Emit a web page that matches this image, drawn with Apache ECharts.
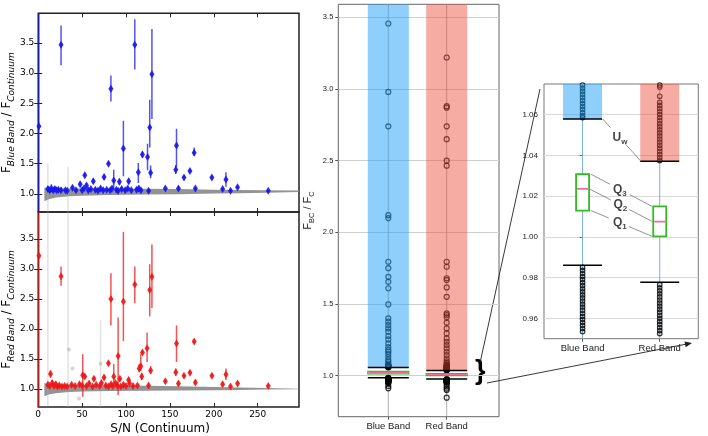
<!DOCTYPE html>
<html>
<head>
<meta charset="utf-8">
<script src="https://cdn.jsdelivr.net/npm/echarts@6/dist/echarts.min.js"></script>
<style>
html,body{margin:0;padding:0;background:#fff;}
#main{width:708px;height:436px;}
</style>
</head>
<body>
<div id="main"></div>
<script>
// 刻度
var snTicks = [0, 50, 100, 150, 200, 250];
var ratioTicks = [1.0, 1.5, 2.0, 2.5, 3.0, 3.5];
var zoomTicks = [0.96, 0.98, 1.00, 1.02, 1.04, 1.06];
var categories = ['Blue Band', 'Red Band'];

// 左图 蓝带点 [S/N, 比值, 误差下, 误差上]
var bluePoints = [
	[0.8, 2.12, 0.7, 4.0], [26, 3.47, 3.13, 3.79], [82.8, 2.74, 2.53, 2.96], [97, 1.75, 1.29, 2.21],
	[110, 3.47, 3.06, 3.89], [129.5, 2.98, 2.24, 3.73], [127, 2.10, 1.77, 2.56], [124.5, 1.61, 1.39, 1.83],
	[118.7, 1.65, 1.60, 1.70], [128, 1.35, 1.26, 1.47], [114, 1.36, 1.18, 1.51], [157.5, 1.80, 1.45, 2.08],
	[156.7, 1.40, 1.33, 1.48], [177.6, 1.68, 1.63, 1.77], [166, 1.27, 1.24, 1.30], [172.8, 1.38, 1.35, 1.41],
	[197.8, 1.27, 1.24, 1.30], [213.8, 1.24, 1.12, 1.36], [80, 1.50, 1.47, 1.53], [75, 1.28, 1.23, 1.32],
	[53, 1.31, 1.27, 1.35], [47.8, 1.16, 1.12, 1.20], [55, 1.14, 1.10, 1.18], [62.7, 1.21, 1.17, 1.25],
	[86, 1.22, 1.10, 1.40], [92.5, 1.20, 1.15, 1.25], [103, 1.21, 1.16, 1.26], [144.8, 1.09, 1.07, 1.11],
	[159.7, 1.09, 1.05, 1.12], [179, 1.09, 1.06, 1.12], [210, 1.08, 1.05, 1.11], [219, 1.05, 1.03, 1.07],
	[227, 1.11, 1.08, 1.13], [262, 1.05, 1.03, 1.07], [125.7, 1.05, 1.03, 1.07], [114.5, 1.09, 1.03, 1.14],
	[11, 1.08, 1.03, 1.13], [13, 1.06, 1.02, 1.10], [15, 1.09, 1.03, 1.16], [17, 1.06, 1.03, 1.09],
	[19, 1.08, 1.04, 1.12], [21, 1.06, 1.03, 1.09], [23, 1.07, 1.04, 1.10], [26, 1.06, 1.03, 1.09],
	[31, 1.06, 1.04, 1.08], [33, 1.05, 1.03, 1.07], [39, 1.10, 1.07, 1.13], [43, 1.06, 1.04, 1.08],
	[50, 1.06, 1.04, 1.08], [52, 1.09, 1.06, 1.12], [57, 1.06, 1.04, 1.08], [60, 1.08, 1.05, 1.11],
	[65, 1.07, 1.05, 1.09], [68, 1.05, 1.03, 1.07], [71, 1.09, 1.06, 1.12], [74, 1.06, 1.04, 1.08],
	[78, 1.07, 1.05, 1.09], [82, 1.06, 1.04, 1.08], [84, 1.09, 1.06, 1.12], [89, 1.07, 1.05, 1.09],
	[91, 1.05, 1.03, 1.07], [95, 1.08, 1.05, 1.11], [99, 1.06, 1.04, 1.08], [102, 1.09, 1.06, 1.12],
	[106, 1.06, 1.04, 1.08], [112, 1.07, 1.05, 1.09], [117, 1.06, 1.04, 1.08]
];

// 左图 红带点
var redPoints = [
	[0.8, 3.22, 0.7, 3.95], [26, 2.88, 2.72, 3.04], [82.8, 2.50, 2.06, 2.93], [97, 2.46, 1.80, 3.62],
	[110, 2.74, 2.43, 3.04], [127, 2.65, 2.21, 3.08], [129.5, 2.87, 2.35, 3.41], [91, 1.55, 0.90, 2.19],
	[124, 1.68, 1.45, 1.94], [118.7, 1.61, 1.57, 1.65], [116.8, 1.38, 1.30, 1.58], [115, 1.34, 1.28, 1.42],
	[128, 1.31, 1.25, 1.38], [117.9, 1.21, 1.15, 1.27], [157.5, 1.76, 1.45, 2.06], [156.7, 1.28, 1.22, 1.34],
	[177.6, 1.79, 1.76, 1.82], [166, 1.22, 1.19, 1.25], [172.8, 1.27, 1.24, 1.30], [197.8, 1.22, 1.19, 1.25],
	[213.8, 1.24, 1.15, 1.34], [144.8, 1.13, 1.10, 1.16], [159.7, 1.09, 1.05, 1.13], [179, 1.11, 1.07, 1.15],
	[210, 1.08, 1.04, 1.12], [219, 1.04, 1.02, 1.06], [227, 1.09, 1.06, 1.12], [262, 1.05, 1.03, 1.07],
	[125.7, 1.06, 1.04, 1.08], [80, 1.43, 1.40, 1.46], [14, 1.25, 1.19, 1.31], [50.7, 1.23, 0.87, 1.58],
	[53, 1.21, 1.17, 1.25], [63.4, 1.17, 1.13, 1.21], [75, 1.19, 1.15, 1.23], [86, 1.21, 1.10, 1.42],
	[93, 1.17, 1.13, 1.21], [103, 1.15, 1.10, 1.20],
	[11, 1.07, 1.03, 1.12], [13, 1.05, 1.02, 1.09], [16, 1.10, 1.05, 1.15], [18, 1.05, 1.02, 1.08],
	[20, 1.08, 1.04, 1.12], [22, 1.04, 1.02, 1.07], [24, 1.06, 1.03, 1.09], [27, 1.04, 1.02, 1.06],
	[30, 1.05, 1.03, 1.07], [33, 1.04, 1.02, 1.06], [38, 1.07, 1.04, 1.10], [42, 1.05, 1.03, 1.07],
	[47, 1.08, 1.05, 1.11], [50, 1.06, 1.04, 1.08], [55, 1.05, 1.03, 1.07], [58, 1.09, 1.06, 1.12],
	[62, 1.04, 1.02, 1.06], [66, 1.07, 1.05, 1.09], [70, 1.05, 1.03, 1.07], [72, 1.10, 1.07, 1.13],
	[77, 1.06, 1.04, 1.08], [80, 1.04, 1.02, 1.06], [83, 1.08, 1.05, 1.11], [85, 1.05, 1.03, 1.07],
	[88, 1.10, 1.07, 1.13], [90, 1.06, 1.04, 1.08], [94, 1.04, 1.02, 1.06], [97, 1.07, 1.05, 1.09],
	[100, 1.05, 1.03, 1.07], [104, 1.09, 1.06, 1.12], [108, 1.05, 1.03, 1.07], [113, 1.06, 1.04, 1.08]
];

// 灰色背景点带 (下沿/上沿)
var bandX = [7, 12, 20, 35, 50, 80, 120, 160, 200, 230, 260, 297];
var blueBandLow = [0.88, 0.91, 0.94, 0.96, 0.97, 0.98, 0.99, 0.995, 1.005, 1.01, 1.02, 1.03];
var blueBandHigh = [1.10, 1.10, 1.095, 1.09, 1.09, 1.09, 1.085, 1.08, 1.07, 1.065, 1.06, 1.055];
var redBandLow = [0.88, 0.91, 0.93, 0.95, 0.96, 0.965, 0.97, 0.975, 0.98, 0.985, 0.99, 0.995];
var redBandHigh = [1.10, 1.08, 1.07, 1.065, 1.065, 1.06, 1.055, 1.045, 1.035, 1.025, 1.015, 1.005];

// 灰色误差棒 [S/N, 下, 上]
var grayBarsTop = [[11, 0.7, 1.5], [34, 0.7, 1.45]];
var grayBarsBottom = [[11, 0.7, 3.95], [34, 0.7, 3.95], [71, 0.7, 2.15]];
var grayPointsBottom = [[35, 1.66], [71, 1.42], [39, 1.34], [46.6, 0.84]];

// 箱线图
var upperWhisker = [1.0578, 1.0371];
var q3 = [1.0307, 1.0149];
var median = [1.0235, 1.0075];
var q1 = [1.0129, 1.0002];
var lowerWhisker = [0.986, 0.9777];

var blueOutliers = [3.457, 2.98, 2.74, 2.12, 2.10, 1.795, 1.75, 1.69, 1.655, 1.61, 1.497, 1.40, 1.377,
	1.353, 1.33, 1.307, 1.277, 1.253, 1.225, 1.20, 1.18, 1.167, 1.151, 1.13, 1.11, 1.098, 1.085,
	1.0745, 1.073, 1.0715, 1.07, 1.0685, 1.067, 1.0655, 1.064, 1.0625, 1.061, 1.0595, 1.0585,
	0.985, 0.9835, 0.982, 0.9805, 0.979, 0.9775, 0.976, 0.9745, 0.973, 0.9715, 0.97, 0.9685, 0.967,
	0.9655, 0.964, 0.9625, 0.961, 0.9595, 0.958, 0.9565, 0.955, 0.9535, 0.947, 0.928, 0.912];
var redOutliers = [3.22, 2.88, 2.87, 2.74, 2.65, 2.50, 2.465, 1.795, 1.76, 1.68, 1.667, 1.616, 1.55,
	1.435, 1.423, 1.407, 1.37, 1.33, 1.295, 1.26, 1.237, 1.214, 1.19, 1.167, 1.144, 1.12, 1.10, 1.09,
	1.08, 1.0745, 1.0735, 1.069, 1.066, 1.0645, 1.063, 1.0615, 1.06, 1.0585, 1.057, 1.0555, 1.054,
	1.0525, 1.051, 1.0495, 1.048, 1.0465, 1.045, 1.0435, 1.042, 1.0405, 1.039, 1.0375,
	0.9765, 0.975, 0.9735, 0.972, 0.9705, 0.969, 0.9675, 0.966, 0.9645, 0.963, 0.9615, 0.96, 0.9585,
	0.957, 0.9555, 0.954, 0.9525, 0.94, 0.925, 0.91, 0.90, 0.847];

var FONT_L = 'DejaVu Sans';
var FONT_R = 'Liberation Sans';

var boxData = categories.map(function (c, i) {
	return [i, lowerWhisker[i], q1[i], median[i], q3[i], upperWhisker[i]];
});
var outlierData = blueOutliers.map(function (v) { return [0, v]; })
	.concat(redOutliers.map(function (v) { return [1, v]; }));

//左图坐标轴
function leftX(grid, pos, showLabel) {
	return {
		type: 'value', gridIndex: grid, position: pos, min: 0, max: 297,
		name: showLabel ? 'S/N (Continuum)' : '',
		nameLocation: 'middle', nameGap: 16,
		nameTextStyle: {fontFamily: FONT_L, fontSize: 12, color: '#000', padding: [0, 17, 0, 0]},
		axisLine: {show: false},
		splitLine: {show: false},
		axisTick: {show: true, inside: true, length: 4, customValues: snTicks, lineStyle: {color: '#222'}},
		axisLabel: {show: showLabel, customValues: snTicks, margin: 3, fontFamily: FONT_L, fontSize: 9, color: '#000'}
	};
}
function leftY(grid, pos, max, name) {
	return {
		type: 'value', gridIndex: grid, position: pos, min: 0.7, max: max,
		name: name || '', nameLocation: 'middle', nameGap: 15,
		nameTextStyle: {
			fontFamily: FONT_L, color: '#000',
			rich: {
				m: {fontFamily: FONT_L, fontSize: 12, lineHeight: 18, color: '#000'},
				s: {fontFamily: FONT_L, fontSize: 9, fontStyle: 'italic', lineHeight: 10, verticalAlign: 'bottom', color: '#000'}
			}
		},
		axisLine: {show: false},
		splitLine: {show: false},
		axisTick: {show: true, inside: true, length: 4, customValues: ratioTicks, lineStyle: {color: '#222'}},
		axisLabel: {
			show: pos === 'left', customValues: ratioTicks, margin: 4, fontFamily: FONT_L, fontSize: 9, color: '#000',
			formatter: function (v) { return v.toFixed(1); }
		}
	};
}

//误差棒
function errRender(color, width) {
	return function (params, api) {
		var x = api.value(0);
		var p1 = api.coord([x, api.value(2)]);
		var p2 = api.coord([x, api.value(3)]);
		return {
			type: 'line',
			shape: {x1: p1[0], y1: p1[1], x2: p2[0], y2: p2[1]},
			style: {stroke: color, lineWidth: width}
		};
	};
}

//灰色点带
function bandRender(low, high) {
	return function (params, api) {
		if (params.dataIndex !== 0) {
			return null;
		}
		var pts = [];
		for (var i = 0; i < bandX.length; i++) {
			pts.push(api.coord([bandX[i], high[i]]));
		}
		for (var j = bandX.length - 1; j >= 0; j--) {
			pts.push(api.coord([bandX[j], low[j]]));
		}
		return {type: 'polygon', shape: {points: pts}, style: {fill: 'rgba(128,128,128,0.85)'}};
	};
}

function leftSeries(xi, yi, points, low, high, grayBars, color, errColor) {
	var s = [];
	s.push({
		type: 'custom', xAxisIndex: xi, yAxisIndex: yi, clip: true, z: 1, silent: true,
		renderItem: bandRender(low, high),
		encode: {x: 0, y: 1},
		data: bandX.map(function (x, i) { return [x, low[i], high[i]]; })
	});
	s.push({
		type: 'custom', xAxisIndex: xi, yAxisIndex: yi, clip: true, z: 1,
		renderItem: function (params, api) {
			var a = api.coord([api.value(0), api.value(1)]);
			var b = api.coord([api.value(0), api.value(2)]);
			return {type: 'line', shape: {x1: a[0], y1: a[1], x2: b[0], y2: b[1]},
				style: {stroke: 'rgba(170,170,170,0.35)', lineWidth: 1.5}};
		},
		encode: {x: 0, y: 1},
		data: grayBars
	});
	s.push({
		type: 'custom', xAxisIndex: xi, yAxisIndex: yi, clip: true, z: 3,
		renderItem: errRender(errColor, 1.5),
		encode: {x: 0, y: 1},
		data: points
	});
	s.push({
		type: 'scatter', xAxisIndex: xi, yAxisIndex: yi, symbol: 'diamond', symbolSize: [5, 8],
		itemStyle: {color: color, opacity: 0.9}, z: 4, data: points.map(function (p) { return [p[0], p[1]]; })
	});
	return s;
}

//箱线
function lineRender(color, width) {
	return function (params, api) {
		var cs = params.coordSys;
		var cx = api.coord([api.value(0), api.value(3)])[0];
		return {type: 'line', shape: {x1: cx, y1: cs.y, x2: cx, y2: cs.y + cs.height},
			style: {stroke: color, lineWidth: width}};
	};
}
var barColors = ['rgba(30,160,250,0.5)', 'rgba(235,70,50,0.45)'];
function boxRender(barW, boxW, lw) {
	return function (params, api) {
		var cs = params.coordSys;
		var i = api.value(0);
		var cx = api.coord([i, api.value(3)])[0];
		var yL = api.coord([i, api.value(1)])[1];
		var yQ1 = api.coord([i, api.value(2)])[1];
		var yM = api.coord([i, api.value(3)])[1];
		var yQ3 = api.coord([i, api.value(4)])[1];
		var yU = api.coord([i, api.value(5)])[1];
		return {
			type: 'group',
			children: [
				{type: 'rect', shape: {x: cx - barW / 2, y: cs.y, width: barW, height: yU - cs.y},
					style: {fill: barColors[i]}},
				{type: 'line', shape: {x1: cx - barW / 2, y1: yU, x2: cx + barW / 2, y2: yU},
					style: {stroke: '#000', lineWidth: 1.5}},
				{type: 'line', shape: {x1: cx - barW / 2, y1: yL, x2: cx + barW / 2, y2: yL},
					style: {stroke: '#000', lineWidth: 1.5}},
				{type: 'rect', shape: {x: cx - boxW / 2, y: yQ3, width: boxW, height: yQ1 - yQ3},
					style: {fill: '#fff', stroke: '#33bb22', lineWidth: lw}},
				{type: 'line', shape: {x1: cx - boxW / 2 + 1, y1: yM, x2: cx + boxW / 2 - 1, y2: yM},
					style: {stroke: '#f06aa6', lineWidth: lw}}
			]
		};
	};
}

function catAxis(grid) {
	return {
		type: 'category', gridIndex: grid, data: categories,
		axisLine: {show: false},
		axisTick: {show: true, alignWithLabel: true, length: 3, lineStyle: {color: '#555'}},
		axisLabel: {fontFamily: FONT_R, fontSize: 9.5, color: '#222', margin: 5},
		splitLine: {show: false}
	};
}

// 注释 (Uw, Q3, Q2, Q1)
var annoDefs = [
	{t: '{b|U}{s|w}', y0: upperWhisker[0], y1: upperWhisker[1], x0: 0.262, x1: 0.756, a: 0.2, b: 0.6, m: 0.45},
	{t: '{b|Q}{s|3}', y0: q3[0], y1: q3[1], x0: 0.11, x1: 0.903, a: 0.31, b: 0.63, m: 0.47},
	{t: '{b|Q}{s|2}', y0: median[0], y1: median[1], x0: 0.09, x1: 0.905, a: 0.34, b: 0.63, m: 0.49},
	{t: '{b|Q}{s|1}', y0: q1[0], y1: q1[1], x0: 0.11, x1: 0.903, a: 0.29, b: 0.62, m: 0.47}
];
function lerp(d, f) { return [d.x0 + (d.x1 - d.x0) * f, d.y0 + (d.y1 - d.y0) * f]; }
var annoLines = [];
var annoLabels = [];
annoDefs.forEach(function (d) {
	annoLines.push({coords: [lerp(d, 0), lerp(d, d.a)]});
	annoLines.push({coords: [lerp(d, d.b), lerp(d, 1)]});
	annoLabels.push({value: lerp(d, d.m), label: {formatter: d.t}});
});

var option = {
	animation: false,
	backgroundColor: '#fff',
	grid: [
		{left: 33.3, top: 13.3, width: 265.7, height: 198.7, show: true, borderColor: '#222', borderWidth: 1.5},
		{left: 33.3, top: 212, width: 265.7, height: 198.7, show: true, borderColor: '#222', borderWidth: 1.5},
		{left: 338.3, top: 4.3, width: 160.7, height: 412.4, show: true, borderColor: '#666', borderWidth: 1},
		{left: 359.1, top: 4.3, width: 116.8, height: 412.4, show: false},
		{left: 544, top: 84, width: 154.3, height: 254.7, show: true, borderColor: '#777', borderWidth: 1}
	],
	xAxis: [
		leftX(0, 'bottom', false),
		leftX(0, 'top', false),
		leftX(1, 'bottom', true),
		leftX(1, 'top', false),
		{type: 'value', gridIndex: 2, show: false, min: 0, max: 1},
		catAxis(3),
		catAxis(4),
		{type: 'value', gridIndex: 4, show: false, min: -0.5, max: 1.5}
	],
	yAxis: [
		leftY(0, 'left', 3.99, '{m|F}{s|Blue Band}{m| / F}{s|Continuum}'),
		leftY(0, 'right', 3.99),
		leftY(1, 'left', 3.95, '{m|F}{s|Red Band}{m| / F}{s|Continuum}'),
		leftY(1, 'right', 3.95),
		{
			type: 'value', gridIndex: 2, min: 0.714, max: 3.591,
			name: '{m|F}{s|BC}{m| / F}{s|C}', nameLocation: 'middle', nameGap: 22,
			nameTextStyle: {
				rich: {
					m: {fontFamily: FONT_R, fontSize: 11, lineHeight: 16, color: '#222'},
					s: {fontFamily: FONT_R, fontSize: 7.5, lineHeight: 9, verticalAlign: 'bottom', color: '#222'}
				}
			},
			axisLine: {show: false},
			axisTick: {show: true, length: 3, customValues: ratioTicks, lineStyle: {color: '#555'}},
			splitLine: {show: true, lineStyle: {color: '#cfcfcf', width: 1}},
			axisLabel: {customValues: ratioTicks, margin: 5, fontFamily: FONT_R, fontSize: 7.5, color: '#222',
				formatter: function (v) { return v.toFixed(1); }}
		},
		{type: 'value', gridIndex: 3, show: false, min: 0.714, max: 3.591},
		{
			type: 'value', gridIndex: 4, min: 0.95, max: 1.075,
			axisLine: {show: false},
			axisTick: {show: true, length: 3, customValues: zoomTicks, lineStyle: {color: '#666'}},
			splitLine: {show: true, lineStyle: {color: '#d8d8d8', width: 1}},
			axisLabel: {customValues: zoomTicks, margin: 6, fontFamily: FONT_R, fontSize: 8, color: '#222',
				formatter: function (v) { return v.toFixed(2); }}
		}
	],
	series: [].concat(
		leftSeries(0, 0, bluePoints, blueBandLow, blueBandHigh, grayBarsTop, '#1515f0', 'rgba(25,25,235,0.75)'),
		leftSeries(2, 2, redPoints, redBandLow, redBandHigh, grayBarsBottom, '#f01515', 'rgba(240,25,25,0.75)'),
		[
			{
				type: 'scatter', xAxisIndex: 2, yAxisIndex: 2, symbolSize: 4, z: 2,
				itemStyle: {color: 'rgba(150,150,150,0.5)'}, data: grayPointsBottom
			},
			// 中图
			{type: 'custom', xAxisIndex: 5, yAxisIndex: 5, z: 2, renderItem: lineRender('#9a9a9a', 0.8), data: boxData},
			{
				type: 'scatter', xAxisIndex: 5, yAxisIndex: 5, symbol: 'circle', symbolSize: 5, z: 3,
				itemStyle: {color: 'rgba(0,0,0,0)', borderColor: '#000', borderWidth: 1.2}, data: outlierData
			},
			{type: 'custom', xAxisIndex: 5, yAxisIndex: 5, z: 4, clip: true, renderItem: boxRender(41, 41, 1.2), data: boxData},
			// 右图
			{type: 'custom', xAxisIndex: 6, yAxisIndex: 6, z: 2, renderItem: lineRender('#78b0dd', 1), data: boxData},
			{
				type: 'scatter', xAxisIndex: 6, yAxisIndex: 6, symbol: 'circle', symbolSize: 4.5, z: 3,
				itemStyle: {color: 'rgba(0,0,0,0)', borderColor: '#000', borderWidth: 1.2}, data: outlierData
			},
			{type: 'custom', xAxisIndex: 6, yAxisIndex: 6, z: 4, clip: true, renderItem: boxRender(39, 13, 1.8), data: boxData},
			{
				type: 'lines', coordinateSystem: 'cartesian2d', xAxisIndex: 7, yAxisIndex: 6, z: 5,
				lineStyle: {color: '#777', width: 0.8, opacity: 1}, data: annoLines
			},
			{
				type: 'scatter', xAxisIndex: 7, yAxisIndex: 6, symbolSize: 0, z: 6, silent: true,
				label: {
					show: true, position: 'inside',
					rich: {
						b: {fontFamily: FONT_R, fontSize: 12, fontWeight: 'bold', lineHeight: 16, color: '#111'},
						s: {fontFamily: FONT_R, fontSize: 8, fontWeight: 'bold', lineHeight: 8, verticalAlign: 'bottom', color: '#111'}
					}
				},
				data: annoLabels
			}
		]
	),
	graphic: [
		{type: 'text', left: 475, top: 358, style: {text: '}', fontFamily: FONT_R, fontSize: 27, fontWeight: 'bold', fill: '#000'}},
		{type: 'polyline', shape: {points: [[480, 363], [540, 89]]}, style: {stroke: '#222', lineWidth: 0.9}},
		{type: 'polyline', shape: {points: [[487, 383], [690, 343.4]]}, style: {stroke: '#222', lineWidth: 0.9}},
		{type: 'polygon', shape: {points: [[692, 343], [685.7, 347.3], [684.5, 341.4]]}, style: {fill: '#222'}}
	]
};

var chart = echarts.init(document.getElementById('main'));
chart.setOption(option);
</script>
</body>
</html>
